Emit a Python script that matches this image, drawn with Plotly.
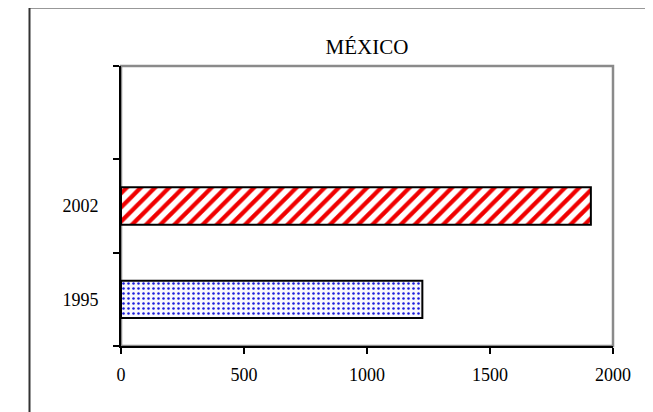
import plotly.graph_objects as go

categories = ["1995", "2002", " "]
values = [1225, 1910, None]
title_text = "MÉXICO"
x_ticks = [0, 500, 1000, 1500, 2000]

# page body has an 8px margin, so figure coords = screen coords - 8
OFF = 8
W, H = 653, 412
L, R, T, B = 121 - OFF, 653 - (613 - OFF), 66 - OFF, 412 - (346 - OFF)
pw, ph = W - L - R, H - T - B

def px_x(x):
    return (x - OFF - L) / pw

def px_y(y):
    return (H - B - (y - OFF)) / ph

fig = go.Figure()
fig.add_trace(go.Bar(
    y=categories,
    x=values,
    orientation="h",
    width=0.4,
    marker=dict(
        color="white",
        line=dict(color="black", width=2),
        pattern=dict(
            shape=[".", "/", ""],
            fgcolor=["#1a1adc", "#f00000", "#000000"],
            bgcolor=["#f6f6fc", "#ffffff", "#ffffff"],
            size=[5, 10, 8],
            solidity=[0.2, 0.42, 0.3],
            fillmode="replace",
        ),
    ),
    showlegend=False,
    hoverinfo="x+y",
))

fig.update_layout(
    width=W, height=H,
    margin=dict(l=L, r=R, t=T, b=B),
    paper_bgcolor="white",
    plot_bgcolor="white",
    font=dict(family="Liberation Serif", size=18, color="black"),
    title=dict(text=title_text, x=0.5, xref="paper", xanchor="center",
               y=1 - (47 - OFF) / H, yanchor="middle", yref="container",
               font=dict(family="Liberation Serif", size=21, color="black")),
    xaxis=dict(
        range=[0, 2000], tickvals=x_ticks, showgrid=False, zeroline=False,
        showline=True, linecolor="black", linewidth=2,
        ticks="outside", ticklen=6, tickwidth=1.5, tickcolor="black",
        ticklabelstandoff=5,
    ),
    yaxis=dict(
        type="category", categoryorder="array", categoryarray=categories,
        range=[-0.5, 2.5], showgrid=False, zeroline=False,
        showline=True, linecolor="black", linewidth=2,
        ticks="outside", tickson="boundaries", ticklen=6, tickwidth=1.5,
        tickcolor="black", ticklabelstandoff=17,
    ),
    shapes=[
        dict(type="rect", xref="paper", yref="paper", x0=0, x1=1, y0=0, y1=1,
             line=dict(color="#8a8a8a", width=2.5), layer="below"),
        dict(type="rect", xref="paper", yref="paper",
             x0=px_x(29.5), x1=px_x(720), y0=px_y(460), y1=px_y(7.5),
             line=dict(color="#333333", width=2), layer="below"),
    ],
)

fig.write_html("out.html")
